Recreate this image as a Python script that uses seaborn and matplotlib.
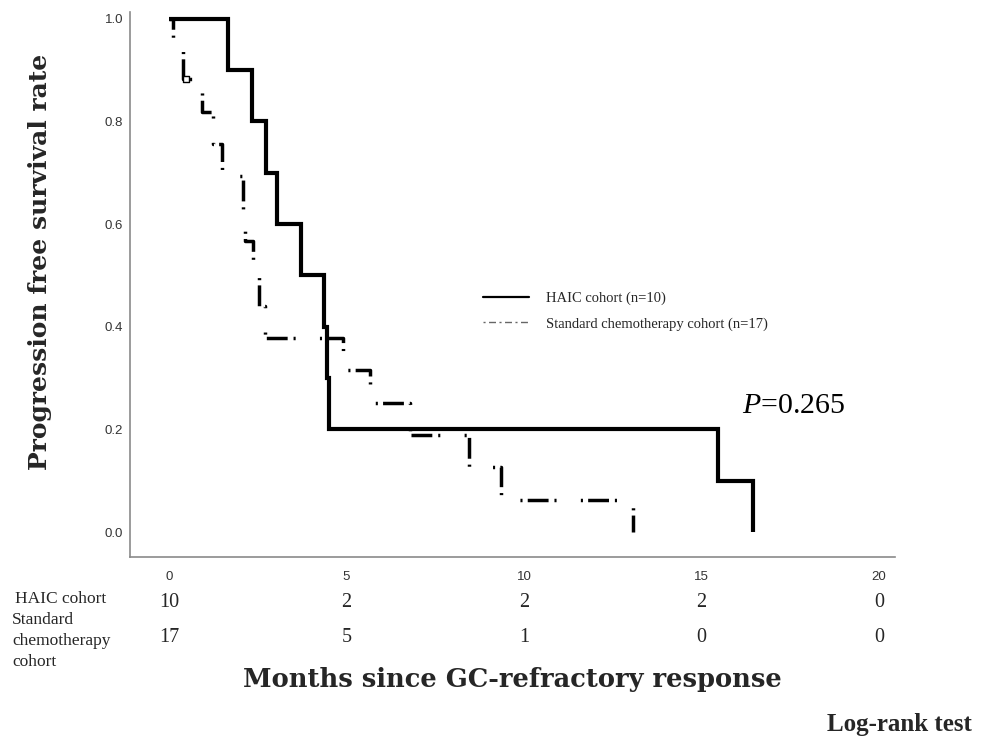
import matplotlib
matplotlib.use("Agg")
import matplotlib.pyplot as plt
import seaborn as sns
import pandas as pd
from matplotlib.lines import Line2D

# ---- data ----
haic_times = [0, 1.66, 2.34, 2.73, 3.04, 3.72, 4.37, 4.45, 4.50, 15.46, 16.45]
haic_surv = [1.0, 0.9, 0.8, 0.7, 0.6, 0.5, 0.4, 0.3, 0.2, 0.1, 0.0]

std_times = [0, 0.10, 0.40, 0.92, 1.25, 1.50, 2.08, 2.15, 2.37, 2.54, 2.70,
             4.90, 5.66, 6.80, 8.45, 9.34, 13.07]
std_surv = [1.0, 0.941, 0.882, 0.819, 0.756, 0.693, 0.630, 0.567, 0.504, 0.441,
            0.378, 0.315, 0.252, 0.189, 0.126, 0.063, 0.0]
std_censor_t = [0.48]
std_censor_s = [0.882]

risk_ticks = [0, 5, 10, 15, 20]
haic_risk = ["10", "2", "2", "2", "0"]
std_risk = ["17", "5", "1", "0", "0"]
y_ticks = [0.0, 0.2, 0.4, 0.6, 0.8, 1.0]

legend_labels = ["HAIC cohort (n=10)", "Standard chemotherapy cohort (n=17)"]

# ---- styling ----
sns.set_style("white")
plt.rcParams["mathtext.fontset"] = "custom"
plt.rcParams["mathtext.rm"] = "Liberation Serif"
plt.rcParams["mathtext.it"] = "Liberation Serif:italic"
SERIF = ["Liberation Serif", "DejaVu Serif"]
WIDE_SERIF = ["DejaVu Serif"]
SANS = ["Liberation Sans", "DejaVu Sans"]

fig = plt.figure(figsize=(9.87, 7.40), dpi=100)
ax = fig.add_axes([0.1317, 0.2473, 0.9068 - 0.1317, 0.984 - 0.2473])

df_h = pd.DataFrame({"t": haic_times, "s": haic_surv})
df_s = pd.DataFrame({"t": std_times, "s": std_surv})

sns.lineplot(data=df_h, x="t", y="s", ax=ax, estimator=None, sort=False,
             drawstyle="steps-post", color="black", lw=3.0)
sns.lineplot(data=df_s, x="t", y="s", ax=ax, estimator=None, sort=False,
             drawstyle="steps-post", color="black", lw=2.5)
lines = ax.get_lines()
lines[0].set_solid_joinstyle("miter")
lines[0].set_solid_capstyle("butt")
lines[1].set_linestyle((4.0, (0.6, 1.5, 6.0, 1.7, 0.6, 7.0)))
lines[1].set_dash_capstyle("butt")

ax.scatter(std_censor_t, std_censor_s, marker="s", s=22, facecolor="white",
           edgecolor="black", linewidth=1.0, zorder=5)

ax.set_xlim(-1.1, 20.45)
ax.set_ylim(-0.0487, 1.0136)
ax.set_xticks(risk_ticks)
ax.set_xticklabels([str(v) for v in risk_ticks], family=SANS, fontsize=9.5, color="#333333")
ax.set_yticks(y_ticks)
ax.set_yticklabels([f"{v:.1f}" for v in y_ticks], family=SANS, fontsize=9.5, color="#333333")
ax.tick_params(axis="x", length=0, pad=10)
ax.tick_params(axis="y", length=0, pad=5)
ax.set_xlabel("")
ax.set_ylabel("")
for side in ["top", "right"]:
    ax.spines[side].set_visible(False)
for side in ["left", "bottom"]:
    ax.spines[side].set_color("#8a8a8a")
    ax.spines[side].set_linewidth(1.2)

# legend
handles = [Line2D([], [], color="black", lw=1.6),
           Line2D([], [], color="#666666", lw=1.0, dashes=[1.5, 2.5, 5, 2.5])]
leg = fig.legend(handles, legend_labels, loc="center left",
                 bbox_to_anchor=(0.489, 0.5797), frameon=False,
                 prop={"family": SERIF, "size": 10.5}, handlelength=3.2,
                 handletextpad=1.15, labelspacing=0.85, borderpad=0, borderaxespad=0)

# P value
ax.text(16.15, 0.245, r"$P$=0.265", family=SERIF, fontsize=21.5, color="black",
        ha="left", va="center")

# at-risk table
xt = ax.get_xaxis_transform()
for x, h, s in zip(risk_ticks, haic_risk, std_risk):
    ax.text(x, -0.083, h, transform=xt, ha="center", va="center",
            family=SERIF, fontsize=14.5, clip_on=False)
    ax.text(x, -0.147, s, transform=xt, ha="center", va="center",
            family=SERIF, fontsize=14.5, clip_on=False)
fig.text(15 / 987, 1 - 599 / 740, "HAIC cohort", family=SERIF, fontsize=12.5,
         ha="left", va="center")
fig.text(12 / 987, 1 - 641 / 740, "Standard\nchemotherapy\ncohort", family=SERIF,
         fontsize=12.5, ha="left", va="center", linespacing=1.4)

# axis titles
fig.text(40 / 987, 1 - 262 / 740, "Progression free survival rate", family=WIDE_SERIF,
         fontsize=18, fontweight="bold", rotation=90, ha="center", va="center")
fig.text(512 / 987, 1 - 680 / 740, "Months since GC-refractory response", family=WIDE_SERIF,
         fontsize=18.5, fontweight="bold", ha="center", va="center")
fig.text(972 / 987, 1 - 725 / 740, "Log-rank test", family=SERIF,
         fontsize=18, fontweight="bold", ha="right", va="center")

fig.savefig("out.png", dpi=100)
